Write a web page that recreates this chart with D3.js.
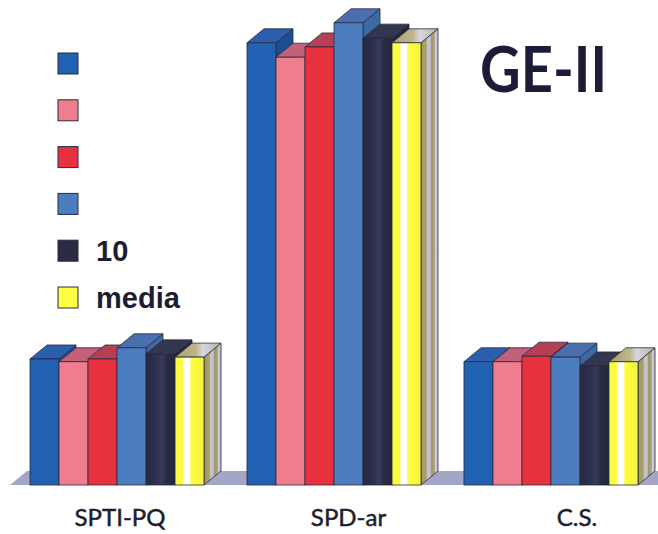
<!DOCTYPE html>
<html>
<head>
<meta charset="utf-8">
<script src="https://cdn.jsdelivr.net/npm/d3@7"></script>
<style>
  html, body { margin: 0; padding: 0; background: #ffffff; }
  svg { display: block; }
</style>
</head>
<body>
<svg id="chart" width="658" height="534"></svg>
<script>
// Categories along the floor
const categories = ["SPTI-PQ", "SPD-ar", "C.S."];

// Series labels (only the last two carry text in the legend)
const seriesLabels = ["", "", "", "", "10", "media"];

// Values per series, one entry per category
const serie1 = [27.1, 95.1, 26.5];
const serie2 = [26.5, 92.0, 26.5];
const serie3 = [27.1, 94.2, 27.7];
const serie4 = [29.5, 99.4, 27.5];
const serie5 = [28.2, 96.1, 25.6];
const media  = [27.5, 95.1, 26.5];

const seriesValues = [serie1, serie2, serie3, serie4, serie5, media];

// Face colours per series: front, top, side
const frontColors = ["#2061b1", "#ef7d8d", "#e7313f", "#4c7ebf", "url(#gDark)", "url(#gYellow)"];
const topColors   = ["#2c5fab", "#c3607a", "#b73f55", "#4a6fae", "#34364f", "url(#gTop)"];
const sideColors  = ["#1b4f95", "#c9606f", "#b82632", "#3e6aa4", "#23253b", "url(#gSide)"];
const legendColors = ["#2061b1", "#ef7d8d", "#e7313f", "#4c7ebf", "#2a2c46", "#fdfd44"];

const svg = d3.select("#chart");
const W = 658, H = 534;
const DX = 17, DY = 14;          // depth offset of the 3D bars
const baseY = 485;

const y = d3.scaleLinear().domain([0, 100]).range([baseY, 20]);
const x0 = d3.scaleBand().domain(categories).range([30, 638]).paddingInner(0.198).paddingOuter(0);
const x1 = d3.scaleBand().domain(d3.range(seriesValues.length)).range([0, x0.bandwidth()]);
const labelX = d3.scalePoint().domain(categories).range([120, 577]);

// gradients for the shaded faces
const defs = svg.append("defs");
function hGrad(id, stops) {
  const g = defs.append("linearGradient").attr("id", id)
    .attr("x1", "0%").attr("x2", "100%").attr("y1", "0%").attr("y2", "0%");
  stops.forEach(([o, c]) => g.append("stop").attr("offset", o).attr("stop-color", c));
}
hGrad("gYellow", [["0%", "#fbfb3c"], ["28%", "#fdfd44"], ["30%", "#ffffff"], ["52%", "#ffffff"], ["54%", "#fdfd44"], ["100%", "#f4f43a"]]);
hGrad("gSide", [["0%", "#a39a64"], ["30%", "#a89f6a"], ["40%", "#c9c8d6"], ["55%", "#bfbccb"], ["62%", "#9f9868"], ["78%", "#aaa37a"], ["86%", "#cfd0de"], ["100%", "#b8b8cc"]]);
hGrad("gTop", [["0%", "#a9a06c"], ["45%", "#bdb68a"], ["60%", "#d6d6e2"], ["100%", "#b8b4a0"]]);
hGrad("gDark", [["0%", "#262840"], ["40%", "#2e3150"], ["55%", "#383c5c"], ["70%", "#2a2c46"], ["100%", "#24263c"]]);

const stroke = "#2a2a40";

// floor plane
svg.append("polygon")
  .attr("points", [[10, baseY], [W + 20, baseY], [W + 20 + DX, baseY - DY], [10 + DX, baseY - DY]].map(p => p.join(",")).join(" "))
  .attr("fill", "#a4a6c6");

// bars, drawn left to right so each one overlaps the side of the previous
categories.forEach((cat, ci) => {
  const g = svg.append("g");
  seriesValues.forEach((vals, si) => {
    const v = vals[ci];
    const xl = x0(cat) + x1(si);
    const w = x1.bandwidth();
    const yt = y(v);
    // side face
    g.append("polygon")
      .attr("points", [[xl + w, baseY], [xl + w, yt], [xl + w + DX, yt - DY], [xl + w + DX, baseY - DY]].map(p => p.join(",")).join(" "))
      .attr("fill", sideColors[si]).attr("stroke", stroke).attr("stroke-width", 0.8).attr("stroke-linejoin", "round");
    // top face
    g.append("polygon")
      .attr("points", [[xl, yt], [xl + DX, yt - DY], [xl + w + DX, yt - DY], [xl + w, yt]].map(p => p.join(",")).join(" "))
      .attr("fill", topColors[si]).attr("stroke", stroke).attr("stroke-width", 0.8).attr("stroke-linejoin", "round");
    // front face
    g.append("rect")
      .attr("x", xl).attr("y", yt).attr("width", w).attr("height", baseY - yt)
      .attr("fill", frontColors[si]).attr("stroke", stroke).attr("stroke-width", 0.8);
  });
});

// category labels
svg.append("g").selectAll("text").data(categories).join("text")
  .attr("x", d => labelX(d))
  .attr("y", 526)
  .attr("text-anchor", "middle")
  .attr("font-family", "Lato, 'Noto Sans', sans-serif")
  .attr("font-size", 24)
  .attr("fill", "#1e1e2e")
  .attr("stroke", "#1e1e2e")
  .attr("stroke-width", 0.5)
  .text(d => d);

// legend
const legend = svg.append("g");
seriesLabels.forEach((lab, i) => {
  const ly = 53 + i * 46.8;
  legend.append("rect")
    .attr("x", 58).attr("y", ly).attr("width", 20).attr("height", 21)
    .attr("fill", legendColors[i]).attr("stroke", stroke).attr("stroke-width", 1);
  if (lab) {
    legend.append("text")
      .attr("x", 96).attr("y", ly + 21)
      .attr("font-family", "'Liberation Sans', Arial, sans-serif")
      .attr("font-weight", "bold")
      .attr("font-size", 29)
      .attr("fill", "#1e1e30")
      .text(lab);
  }
});

// title
svg.append("text")
  .attr("x", 480).attr("y", 92)
  .attr("font-family", "Lato, 'Noto Sans', sans-serif")
  .attr("font-weight", "bold")
  .attr("font-size", 64)
  .attr("textLength", 127)
  .attr("lengthAdjust", "spacingAndGlyphs")
  .attr("fill", "#1c1c38")
  .text("GE-II");
</script>
</body>
</html>
